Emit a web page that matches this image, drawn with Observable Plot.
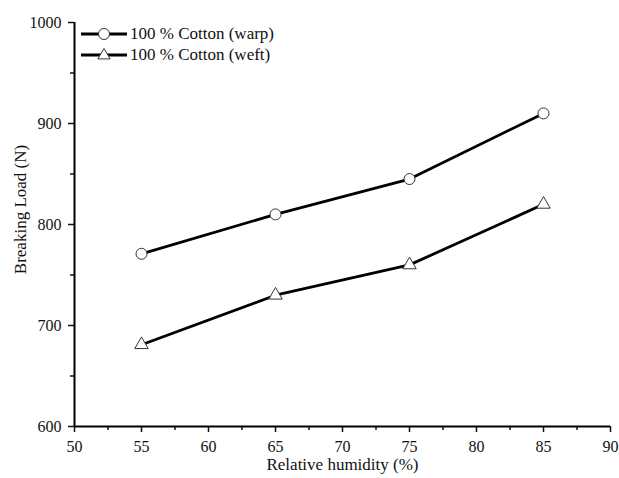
<!DOCTYPE html>
<html><head><meta charset="utf-8">
<script src="https://cdn.jsdelivr.net/npm/d3@7"></script>
<script src="https://cdn.jsdelivr.net/npm/@observablehq/plot@0.6"></script>
<style>
body{margin:0;background:#fff;}
#wrap{position:relative;width:619px;height:478px;}
#legend{position:absolute;left:0;top:0;}
</style>
</head><body><div id="wrap"></div>
<script>
const humidity = [55, 65, 75, 85];
const warp = [771, 810, 845, 910];
const weft = [681, 730, 760, 820];
const seriesNames = ["100 % Cotton (warp)", "100 % Cotton (weft)"];
const xTicks = [50, 55, 60, 65, 70, 75, 80, 85, 90];
const xMinor = [52.5, 57.5, 62.5, 67.5, 72.5, 77.5, 82.5, 87.5];
const yTicks = [600, 700, 800, 900, 1000];
const yMinor = [650, 750, 850, 950];

const data = [
  ...humidity.map((h, i) => ({x: h, y: warp[i], s: seriesNames[0]})),
  ...humidity.map((h, i) => ({x: h, y: weft[i], s: seriesNames[1]}))
];
const font = "'Liberation Serif', 'Times New Roman', serif";

const chart = Plot.plot({
  width: 619, height: 478,
  marginLeft: 74, marginRight: 9, marginTop: 22, marginBottom: 52,
  style: {fontFamily: font, fontSize: "16px", color: "#111", background: "#fff"},
  x: {domain: [50, 90]},
  y: {domain: [600, 1000]},
  marks: [
    Plot.axisX({ticks: xTicks, tickSize: 6, tickPadding: 8, tickFormat: d3.format("d"), label: null, strokeWidth: 1.5, fontSize: 16}),
    Plot.axisX({ticks: xMinor, tickSize: 4, text: null, label: null, strokeWidth: 1.5}),
    Plot.axisY({ticks: yTicks, tickSize: 6, tickPadding: 7, tickFormat: d3.format("d"), label: null, strokeWidth: 1.5, fontSize: 16}),
    Plot.axisY({ticks: yMinor, tickSize: 4, text: null, label: null, strokeWidth: 1.5}),
    Plot.ruleX([50], {stroke: "#000", strokeWidth: 2}),
    Plot.ruleY([600], {stroke: "#000", strokeWidth: 2}),
    Plot.line(data, {x: "x", y: "y", z: "s", stroke: "#000", strokeWidth: 2.8}),
    Plot.dot(data.filter(d => d.s === seriesNames[0]), {x: "x", y: "y", symbol: "circle", r: 5.5, fill: "#fff", stroke: "#333", strokeWidth: 1}),
    Plot.dot(data.filter(d => d.s === seriesNames[1]), {x: "x", y: "y", symbol: "triangle", r: 5, fill: "#fff", stroke: "#333", strokeWidth: 1}),
    Plot.text(["Relative humidity (%)"], {frameAnchor: "bottom", dy: 43, fontSize: 17, fill: "#111"}),
    Plot.text(["Breaking Load (N)"], {frameAnchor: "left", textAnchor: "middle", dx: -54, dy: -15, rotate: -90, fontSize: 17, fill: "#111"})
  ]
});
document.getElementById("wrap").appendChild(chart);

// legend overlay
const ns = "http://www.w3.org/2000/svg";
const lg = document.createElementNS(ns, "svg");
lg.setAttribute("id", "legend");
lg.setAttribute("width", 300); lg.setAttribute("height", 70);
const rows = [{name: seriesNames[0], sym: "circle", y: 34}, {name: seriesNames[1], sym: "triangle", y: 55}];
for (const r of rows) {
  const l = document.createElementNS(ns, "line");
  l.setAttribute("x1", 81); l.setAttribute("x2", 127); l.setAttribute("y1", r.y); l.setAttribute("y2", r.y);
  l.setAttribute("stroke", "#000"); l.setAttribute("stroke-width", 2.8);
  lg.appendChild(l);
  let m;
  if (r.sym === "circle") {
    m = document.createElementNS(ns, "circle");
    m.setAttribute("cx", 104); m.setAttribute("cy", r.y); m.setAttribute("r", 5.5);
  } else {
    m = document.createElementNS(ns, "path");
    const s = 6.5;
    m.setAttribute("d", `M104,${r.y - s}L${104 + s * 0.95},${r.y + s * 0.6}L${104 - s * 0.95},${r.y + s * 0.6}Z`);
  }
  m.setAttribute("fill", "#fff"); m.setAttribute("stroke", "#333"); m.setAttribute("stroke-width", 1);
  lg.appendChild(m);
  const t = document.createElementNS(ns, "text");
  t.setAttribute("x", 130); t.setAttribute("y", r.y + 5);
  t.setAttribute("font-family", font); t.setAttribute("font-size", 17); t.setAttribute("fill", "#111");
  t.textContent = r.name;
  lg.appendChild(t);
}
document.getElementById("wrap").appendChild(lg);
</script>
</body></html>
